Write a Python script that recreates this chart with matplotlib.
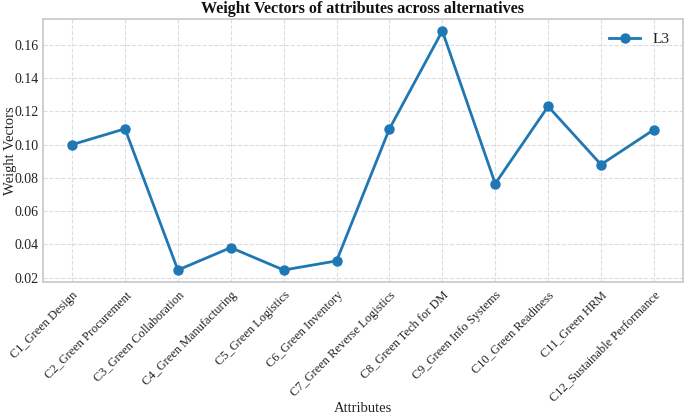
import matplotlib
matplotlib.use("Agg")
import matplotlib.pyplot as plt

attributes = ["C1_Green Design", "C2_Green Procurement", "C3_Green Collaboration",
              "C4_Green Manufacturing", "C5_Green Logistics", "C6_Green Inventory",
              "C7_Green Reverse Logistics", "C8_Green Tech for DM", "C9_Green Info Systems",
              "C10_Green Readiness", "C11_Green HRM", "C12_Sustainable Performance"]
l3 = [0.100, 0.1095, 0.0245, 0.038, 0.0245, 0.030, 0.1095, 0.1684, 0.0765, 0.123, 0.088, 0.109]
yticks = [0.02, 0.04, 0.06, 0.08, 0.10, 0.12, 0.14, 0.16]

plt.rcParams['font.family'] = ['Liberation Serif', 'DejaVu Serif']
fig = plt.figure(figsize=(6.85, 4.15), dpi=100)
ax = fig.add_axes([43/685, 1-282/415, (683-43)/685, (282-19)/415])

x = list(range(len(attributes)))
ax.plot(x, l3, marker='o', color='#1f77b4', linewidth=2, markersize=6.5, label='L3')

tc = '#222222'
ax.set_xticks(x)
ax.set_xticklabels(attributes, rotation=45, ha='right', rotation_mode='anchor', fontsize=8.9, color=tc)
ax.set_yticks(yticks)
ax.set_yticklabels([f"{v:.2f}" for v in yticks], fontsize=10, color=tc)
ax.tick_params(axis='x', length=0, pad=5)
ax.tick_params(axis='y', length=0, pad=3)
ax.grid(True, linestyle='--', color='#dddddd', linewidth=0.8)
ax.set_axisbelow(True)
for s in ax.spines.values():
    s.set_color('#cccccc')
    s.set_linewidth(1.3)

ax.set_title("Weight Vectors of attributes across alternatives", fontsize=11.6, fontweight='bold', pad=4, color='#111111')
ax.set_xlabel("Attributes", fontsize=10.5, color=tc)
ax.set_ylabel("Weight Vectors", fontsize=10.5, color=tc)
ax.yaxis.set_label_coords(-0.041, 0.5)
ax.xaxis.set_label_coords(0.5, -0.455)
leg = ax.legend(loc='upper right', frameon=False, fontsize=11)
for t in leg.get_texts():
    t.set_color(tc)

fig.savefig("out.png", dpi=100)
